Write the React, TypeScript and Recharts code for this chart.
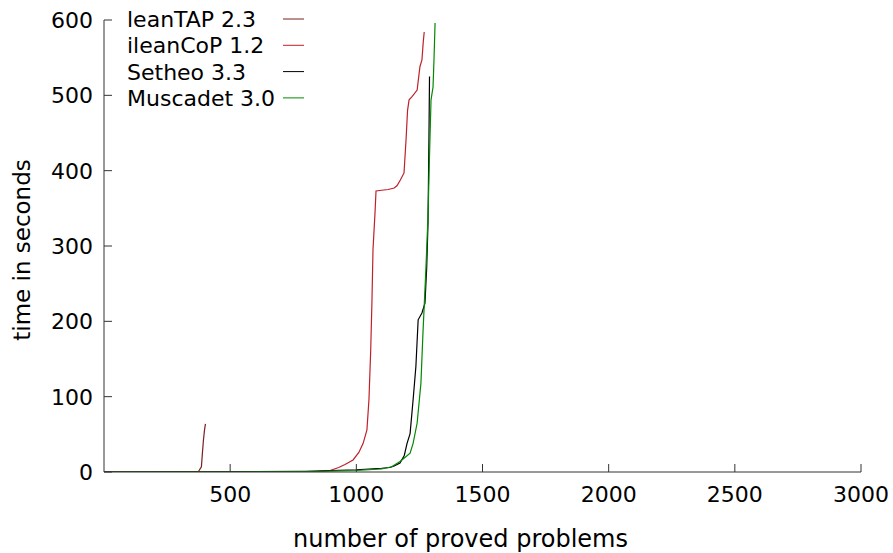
import { LineChart, Line, XAxis, YAxis, Legend } from 'recharts'

// time in seconds vs number of proved problems
const leanTapX = [1, 200, 300, 360, 375, 386, 390, 394, 398, 402]
const leanTapY = [0, 0, 0.2, 0.5, 1, 7, 25, 42, 55, 64]

const ileanCopX = [
  1, 300, 500, 700, 800, 850, 896, 930, 955, 987, 1010, 1027, 1042, 1050, 1057, 1062, 1066,
  1074, 1078, 1100, 1126, 1150, 1161, 1175, 1189, 1197, 1203, 1209, 1220, 1241, 1252, 1260,
  1265, 1269,
]
const ileanCopY = [
  0, 0, 0.1, 0.3, 0.6, 1, 2, 6, 10, 16, 26, 38, 56, 96, 162, 228, 295, 344, 373, 374, 375, 377,
  380, 388, 397, 441, 480, 494, 498, 507, 538, 547, 570, 584,
]

const setheoX = [
  1, 500, 800, 1000, 1050, 1100, 1133, 1150, 1173, 1190, 1201, 1213, 1225, 1236, 1245, 1260,
  1272, 1279, 1284, 1288, 1290,
]
const setheoY = [
  0, 0.2, 1, 3, 4, 5, 6, 8, 12, 22, 38, 51, 96, 140, 202, 211, 224, 272, 330, 450, 525,
]

const muscadetX = [
  1, 500, 800, 1000, 1100, 1140, 1173, 1195, 1213, 1225, 1241, 1256, 1264, 1276, 1284, 1290,
  1296, 1304, 1308, 1312,
]
const muscadetY = [
  0, 0, 0.5, 2, 4, 7, 14, 20, 25, 38, 65, 118, 184, 272, 339, 420, 494, 511, 550, 596,
]

const xTicks = [500, 1000, 1500, 2000, 2500, 3000]
const yTicks = [0, 100, 200, 300, 400, 500, 600]

const series = [
  { name: 'leanTAP 2.3', color: '#7a2020', xs: leanTapX, ys: leanTapY },
  { name: 'ileanCoP 1.2', color: '#c0202a', xs: ileanCopX, ys: ileanCopY },
  { name: 'Setheo 3.3', color: '#000000', xs: setheoX, ys: setheoY },
  { name: 'Muscadet 3.0', color: '#008a00', xs: muscadetX, ys: muscadetY },
]

const toPoints = (xs: number[], ys: number[]) => xs.map((x, i) => ({ x, y: ys[i] }))

const FONT = 'DejaVu Sans'
const AXIS = '#333'
const TICK_MARGIN = 11
const TICK_LEN = 8

function YTick(props: any) {
  const { x, y, payload } = props
  const axisX = x + TICK_MARGIN
  return (
    <g>
      <line x1={axisX} x2={axisX + TICK_LEN} y1={y} y2={y} stroke={AXIS} />
      <text x={x} y={y} dy={8} textAnchor="end" fontFamily={FONT} fontSize={22} fill="#000">
        {payload.value}
      </text>
    </g>
  )
}

function XTick(props: any) {
  const { x, y, payload } = props
  const axisY = y - TICK_MARGIN
  return (
    <g>
      <line x1={x} x2={x} y1={axisY} y2={axisY - TICK_LEN} stroke={AXIS} />
      <text x={x} y={y} dy={19} textAnchor="middle" fontFamily={FONT} fontSize={22} fill="#000">
        {payload.value}
      </text>
    </g>
  )
}

function KeyBox() {
  return (
    <svg width={320} height={110} style={{ display: 'block' }}>
      {series.map((s, i) => {
        const cy = 19 + i * 26.3
        return (
          <g key={s.name}>
            <text x={127} y={cy + 8} fontFamily={FONT} fontSize={22} fill="#000">
              {s.name}
            </text>
            <line x1={283} x2={304} y1={cy} y2={cy} stroke={s.color} strokeWidth={1} />
          </g>
        )
      })}
    </svg>
  )
}

export default function App() {
  return (
    <div style={{ position: 'absolute', left: 0, top: 0, width: 893, height: 553, background: '#fff' }}>
      <LineChart width={893} height={553} margin={{ top: 20, right: 32, bottom: 51, left: 44 }}>
        <XAxis
          type="number"
          dataKey="x"
          domain={[0, 3000]}
          ticks={xTicks}
          interval={0}
          tickSize={0}
          tickMargin={TICK_MARGIN}
          tick={<XTick />}
          height={30}
          axisLine={{ stroke: AXIS }}
          allowDataOverflow
          label={{
            value: 'number of proved problems',
            position: 'insideBottom',
            offset: -45,
            dx: -22,
            fontFamily: FONT,
            fontSize: 24,
            fill: '#000',
          }}
        />
        <YAxis
          type="number"
          dataKey="y"
          domain={[0, 600]}
          ticks={yTicks}
          interval={0}
          tickSize={0}
          tickMargin={TICK_MARGIN}
          tick={<YTick />}
          width={60}
          axisLine={{ stroke: AXIS }}
          allowDataOverflow
          label={{
            value: 'time in seconds',
            angle: -90,
            position: 'insideLeft',
            offset: -22,
            dy: 4,
            style: { textAnchor: 'middle' },
            fontFamily: FONT,
            fontSize: 23,
            fill: '#000',
          }}
        />
        <Legend
          layout="horizontal"
          verticalAlign="middle"
          align="center"
          wrapperStyle={{ top: 0, left: 0, width: 320, height: 110 }}
          content={() => <KeyBox />}
        />
        {series.map((s) => (
          <Line
            key={s.name}
            data={toPoints(s.xs, s.ys)}
            dataKey="y"
            name={s.name}
            type="linear"
            stroke={s.color}
            strokeWidth={1.2}
            dot={false}
            activeDot={false}
            isAnimationActive={false}
          />
        ))}
      </LineChart>
    </div>
  )
}
